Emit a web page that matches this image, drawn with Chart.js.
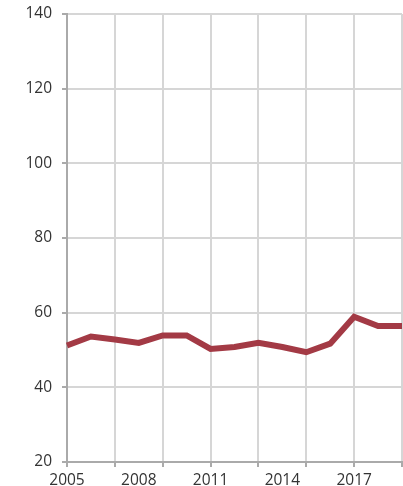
<!DOCTYPE html>
<html>
<head>
<meta charset="utf-8">
<script src="https://cdn.jsdelivr.net/npm/chart.js@4"></script>
<style>
html,body{margin:0;padding:0;background:#fff;}
#wrap{width:403px;height:486px;position:relative;}
</style>
</head>
<body>
<div id="wrap"><canvas id="c"></canvas></div>
<script>
const years = ['2005','2006','2007','2008','2009','2010','2011','2012','2013','2014','2015','2016','2017','2018','2019'];
const values = [51.2, 53.6, 52.8, 51.9, 53.9, 53.9, 50.3, 50.8, 51.9, 50.8, 49.4, 51.7, 58.9, 56.4, 56.4];
const yTicks = [20, 40, 60, 80, 100, 120, 140];

Chart.defaults.font.family = "'Open Sans', sans-serif";
Chart.defaults.font.size = 15.5;
Chart.defaults.color = '#333';

new Chart(document.getElementById('c'), {
  type: 'line',
  data: {
    labels: years,
    datasets: [{
      data: values,
      borderColor: '#a33a45',
      borderWidth: 6,
      pointRadius: 0,
      tension: 0,
      fill: false
    }]
  },
  options: {
    responsive: true,
    maintainAspectRatio: false,
    animation: false,
    layout: { padding: { top: 14, right: 1, left: 0, bottom: 0 } },
    plugins: { legend: { display: false }, tooltip: { enabled: false } },
    scales: {
      x: {
        type: 'category',
        offset: false,
        border: { color: '#aaa', width: 2 },
        grid: {
          color: ctx => (ctx.index % 2 === 0 ? '#d6d6d6' : 'rgba(0,0,0,0)'),
          tickColor: ctx => (ctx.index % 2 === 0 ? '#aaa' : 'rgba(0,0,0,0)'),
          lineWidth: 2,
          tickLength: 5
        },
        afterFit: s => { s.height = 24; s.paddingLeft = 0; s.paddingRight = 0; },
        ticks: {
          autoSkip: false,
          maxRotation: 0,
          padding: 6,
          font: { size: 15.5, lineHeight: 1 },
          callback: function(v, i) { return i % 3 === 0 ? years[i] : ''; }
        }
      },
      y: {
        min: 20,
        max: 140,
        border: { color: '#aaa', width: 2 },
        grid: { color: '#d6d6d6', lineWidth: 2, tickLength: 5, tickColor: '#aaa' },
        afterFit: s => { s.width = 67; s.paddingTop = 0; s.paddingBottom = 0; },
        afterBuildTicks: s => { s.ticks = yTicks.map(v => ({ value: v })); },
        ticks: { padding: 10, font: { size: 15.5 } }
      }
    }
  }
});
</script>
</body>
</html>
